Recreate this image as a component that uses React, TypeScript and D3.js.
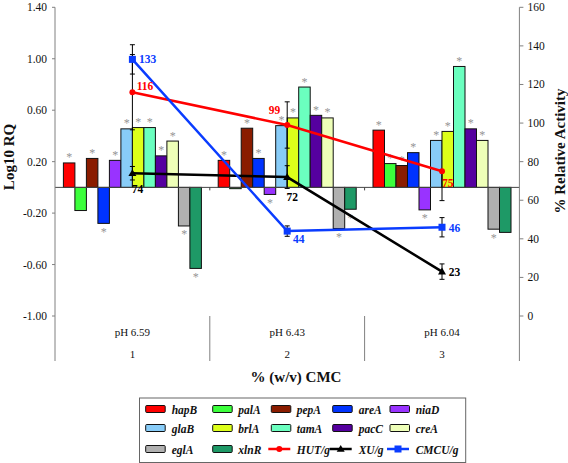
import React from 'react';
import * as d3 from 'd3';

const groups = ['1', '2', '3'];
const phLabels = ['pH 6.59', 'pH 6.43', 'pH 6.04'];
const genes = ['hapB', 'palA', 'pepA', 'areA', 'niaD', 'glaB', 'brlA', 'tamA', 'pacC', 'creA', 'eglA', 'xlnR'];
const geneColors = ['#ff0000', '#3cff3c', '#8a1c00', '#0033ff', '#9933ff', '#88ccf8', '#ddff1a', '#6bffbf', '#55009f', '#eeffb8', '#b0b0b0', '#1e9966'];
const rq1 = [0.19, -0.18, 0.225, -0.28, 0.21, 0.455, 0.465, 0.465, 0.245, 0.36, -0.30, -0.63];
const rq2 = [0.21, -0.01, 0.46, 0.225, -0.055, 0.48, 0.54, 0.78, 0.56, 0.54, -0.32, -0.17];
const rq3 = [0.445, 0.185, 0.17, 0.27, -0.175, 0.365, 0.435, 0.94, 0.455, 0.365, -0.325, -0.35];
const sig1 = [1, 0, 1, 1, 1, 1, 1, 1, 1, 1, 1, 1];
const sig2 = [1, 0, 1, 1, 1, 1, 1, 1, 1, 1, 1, 1];
const sig3 = [1, 1, 1, 1, 1, 1, 1, 1, 1, 1, 1, 0];
const hut = [116, 99, 75];
const hutErrUp = [19.5, 12, 0];
const hutErrDown = [19.5, 12, 15.2];
const xu = [74, 72, 23];
const xuErr = [3.5, 5.9, 4];
const cmcu = [133, 44, 46];
const cmcuErr = [7.6, 2.7, 5];
const leftTicks = [-1.0, -0.6, -0.2, 0.2, 0.6, 1.0, 1.4];
const rightTicks = [0, 20, 40, 60, 80, 100, 120, 140, 160];
const lineNames = ['HUT/g', 'XU/g', 'CMCU/g'];
const lineColors = ['#ff0000', '#000000', '#0a3cff'];

const FONT = "'Liberation Serif', monospace";

function T(props: any) {
  const { style, children, ...rest } = props;
  return (
    <text {...rest} fontFamily={FONT} style={{ fontFamily: FONT, ...(style || {}) }}>
      {children}
    </text>
  );
}

export default function App() {
  const W = 568, H = 463;
  const x0 = 55, x1 = 519.4, yTop = 7.3, yBot = 316, yAxisEnd = 361;
  const rqData = [rq1, rq2, rq3];
  const sigData = [sig1, sig2, sig3];

  const xGroup = d3.scaleBand<string>().domain(groups).range([x0, x1]).paddingInner(0).paddingOuter(0);
  const xGene = d3.scaleBand<string>().domain(genes).range([0, xGroup.bandwidth()]).paddingInner(0).paddingOuter(0.73);
  const yL = d3.scaleLinear().domain([-1.0, 1.4]).range([yBot, yTop]);
  const yR = d3.scaleLinear().domain([0, 160]).range([yBot, yTop]);
  const cx = (i: number) => (xGroup(groups[i]) as number) + xGroup.bandwidth() / 2;

  const lineGen = d3.line<number>().x((_, i) => cx(i)).y((v) => yR(v));

  const series = [
    { vals: hut, up: hutErrUp, down: hutErrDown, color: lineColors[0], marker: 'circle' },
    { vals: xu, up: xuErr, down: xuErr, color: lineColors[1], marker: 'tri' },
    { vals: cmcu, up: cmcuErr, down: cmcuErr, color: lineColors[2], marker: 'square' },
  ];
  const labelOff = [
    [[4.3, -2, 'start'], [-7, -11, 'end'], [0, 16, 'start']],
    [[-0.7, 19.3, 'start'], [-0.7, 24, 'start'], [6.7, 4.2, 'start']],
    [[6.5, 3.5, 'start'], [5.8, 11.6, 'start'], [6.7, 4.4, 'start']],
  ];

  const marker = (kind: string, x: number, y: number, color: string, key: string, size = 1) => {
    if (kind === 'circle') return <circle key={key} cx={x} cy={y} r={3 * size} fill={color} />;
    if (kind === 'tri') {
      const s = 4 * size;
      return <path key={key} d={`M${x},${y - s}L${x + s},${y + s * 0.7}L${x - s},${y + s * 0.7}Z`} fill={color} />;
    }
    const s = 3.5 * size;
    return <rect key={key} x={x - s} y={y - s} width={2 * s} height={2 * s} fill={color} />;
  };

  const zeroY = yL(0);

  const legX = 139.5, legY = 398, legW = 326.2, legH = 64.5;
  const colSw = [145.7, 212.7, 271.3, 332.7, 390];
  const colTx = [171.7, 238.3, 296.7, 358.7, 415.7];
  const rowY = [409, 428, 449];
  const legendItems: { name: string; kind: 'bar' | 'line'; idx: number }[] = [
    ...genes.map((g, i) => ({ name: g, kind: 'bar' as const, idx: i })),
    ...lineNames.map((n, i) => ({ name: n, kind: 'line' as const, idx: i })),
  ];

  return (
    <svg width={W} height={H} style={{ position: 'absolute', left: 0, top: 0, background: '#fff' }}>
      <rect x={0} y={0} width={W} height={H} fill="#fff" />
      {rqData.map((arr, gi) =>
        arr.map((v, k) => {
          const bx = (xGroup(groups[gi]) as number) + (xGene(genes[k]) as number);
          const yv = yL(v);
          const top = Math.min(yv, zeroY);
          const h = Math.abs(yv - zeroY);
          return (
            <rect key={`b${gi}-${k}`} x={bx} y={top} width={xGene.bandwidth()} height={h} fill={geneColors[k]} stroke="#111" strokeWidth={1} />
          );
        })
      )}
      {rqData.map((arr, gi) =>
        arr.map((v, k) => {
          if (!sigData[gi][k]) return null;
          const bx = (xGroup(groups[gi]) as number) + (xGene(genes[k]) as number) + xGene.bandwidth() / 2;
          const yv = yL(v);
          const ty = v >= 0 ? yv - 1.5 : yv + 12.5;
          return (
            <T key={`s${gi}-${k}`} x={bx} y={ty} textAnchor="middle" fontSize={12} fill="#959595">*</T>
          );
        })
      )}
      <line x1={x0} x2={x1} y1={zeroY} y2={zeroY} stroke="#444" strokeWidth={1} />
      {[1, 2].map((i) => {
        const xx = xGroup(groups[i]) as number;
        return <line key={`zt${i}`} x1={xx} x2={xx} y1={zeroY} y2={zeroY + 3} stroke="#444" />;
      })}
      <line x1={x0} x2={x0} y1={yTop} y2={yAxisEnd} stroke="#808080" strokeWidth={1} />
      <line x1={x1} x2={x1} y1={yTop} y2={yAxisEnd} stroke="#808080" strokeWidth={1} />
      {leftTicks.map((t) => (
        <g key={`lt${t}`}>
          <line x1={x0 - 3} x2={x0} y1={yL(t)} y2={yL(t)} stroke="#808080" />
          <T x={47} y={yL(t) + 4} textAnchor="end" fontSize={11.5} fill="#111">{t.toFixed(2)}</T>
        </g>
      ))}
      {rightTicks.map((t) => (
        <g key={`rt${t}`}>
          <line x1={x1} x2={x1 + 4} y1={yR(t)} y2={yR(t)} stroke="#808080" />
          <T x={527.5} y={yR(t) + 4} textAnchor="start" fontSize={11.5} fill="#111">{t}</T>
        </g>
      ))}
      {[1, 2].map((i) => {
        const xx = xGroup(groups[i]) as number;
        return <line key={`cd${i}`} x1={xx} x2={xx} y1={yBot} y2={yAxisEnd} stroke="#808080" />;
      })}
      {groups.map((g, i) => (
        <g key={`cl${g}`}>
          <T x={cx(i)} y={336} textAnchor="middle" fontSize={11} fill="#111">{phLabels[i]}</T>
          <T x={cx(i)} y={358} textAnchor="middle" fontSize={11} fill="#111">{g}</T>
        </g>
      ))}
      {series.map((s, si) => (
        <g key={`ser${si}`}>
          {s.vals.map((v, i) => {
            const xx = cx(i);
            const yu = yR(v + s.up[i]);
            const yd = yR(v - s.down[i]);
            return (
              <g key={`e${si}-${i}`} stroke="#000" strokeWidth={1}>
                <line x1={xx} x2={xx} y1={yu} y2={yd} />
                {s.up[i] > 0 && <line x1={xx - 2.5} x2={xx + 2.5} y1={yu} y2={yu} />}
                {s.down[i] > 0 && <line x1={xx - 2.5} x2={xx + 2.5} y1={yd} y2={yd} />}
              </g>
            );
          })}
        </g>
      ))}
      {series.map((s, si) => (
        <g key={`ln${si}`}>
          <path d={lineGen(s.vals) as string} fill="none" stroke={s.color} strokeWidth={2.5} />
          {s.vals.map((v, i) => marker(s.marker, cx(i), yR(v), s.color, `m${si}-${i}`))}
        </g>
      ))}
      {series.map((s, si) =>
        s.vals.map((v, i) => {
          const [dx, dy, anchor] = labelOff[si][i] as [number, number, string];
          return (
            <T key={`lb${si}-${i}`} x={cx(i) + dx} y={yR(v) + dy} textAnchor={anchor} fontSize={11.5} fontWeight="bold" fill={s.color}>
              {v}
            </T>
          );
        })
      )}
      <T transform={`translate(13.5,157) rotate(-90)`} textAnchor="middle" fontSize={15} fontWeight="bold" fill="#111">Log10 RQ</T>
      <T transform={`translate(564.5,151) rotate(-90)`} textAnchor="middle" fontSize={15} fontWeight="bold" fill="#111">% Relative Activity</T>
      <T x={296} y={381.5} textAnchor="middle" fontSize={15} fontWeight="bold" fill="#111">% (w/v) CMC</T>
      <rect x={legX} y={legY} width={legW} height={legH} fill="#fff" stroke="#666" strokeWidth={1} />
      {legendItems.map((it, n) => {
        const r = Math.floor(n / 5), c = n % 5;
        const sy = rowY[r];
        return (
          <g key={`lg${n}`}>
            {it.kind === 'bar' ? (
              <rect x={colSw[c]} y={sy - 3.5} width={19.5} height={7} rx={1} fill={geneColors[it.idx]} stroke="#111" strokeWidth={1} />
            ) : (
              <g>
                <line x1={colSw[c] - 3} x2={colSw[c] + 19} y1={sy} y2={sy} stroke={lineColors[it.idx]} strokeWidth={2.5} />
                {marker(series[it.idx].marker, colSw[c] + 8, sy, lineColors[it.idx], `lm${n}`)}
              </g>
            )}
            <T x={colTx[c]} y={sy + 4.5} fontSize={11.5} fontWeight="bold" fontStyle="italic" fill="#111">{it.name}</T>
          </g>
        );
      })}
    </svg>
  );
}
